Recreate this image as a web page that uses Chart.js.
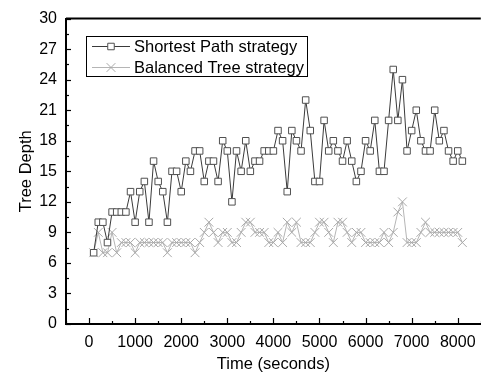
<!DOCTYPE html>
<html>
<head>
<meta charset="utf-8">
<script src="https://cdn.jsdelivr.net/npm/chart.js@4.4.0/dist/chart.umd.min.js"></script>
<style>
  html, body { margin: 0; padding: 0; background: #fff; overflow: hidden; }
  #wrap { width: 481px; height: 374px; overflow: hidden; }
</style>
</head>
<body>
<div id="wrap"><canvas id="chart" width="488" height="374"></canvas></div>
<script>
const times = [100, 200, 300, 400, 500, 600, 700, 800, 900, 1000,
    1100, 1200, 1300, 1400, 1500, 1600, 1700, 1800, 1900, 2000,
    2100, 2200, 2300, 2400, 2500, 2600, 2700, 2800, 2900, 3000,
    3100, 3200, 3300, 3400, 3500, 3600, 3700, 3800, 3900, 4000,
    4100, 4200, 4300, 4400, 4500, 4600, 4700, 4800, 4900, 5000,
    5100, 5200, 5300, 5400, 5500, 5600, 5700, 5800, 5900, 6000,
    6100, 6200, 6300, 6400, 6500, 6600, 6700, 6800, 6900, 7000,
    7100, 7200, 7300, 7400, 7500, 7600, 7700, 7800, 7900, 8000, 8100];

const shortestPath = [7, 10, 10, 8, 11, 11, 11, 11, 13, 10,
    13, 14, 10, 16, 14, 13, 10, 15, 15, 13,
    16, 15, 17, 17, 14, 16, 16, 14, 18, 17,
    12, 17, 15, 18, 15, 16, 16, 17, 17, 17,
    19, 18, 13, 19, 18, 17, 22, 19, 14, 14,
    20, 17, 18, 17, 16, 18, 16, 14, 15, 18,
    17, 20, 15, 15, 20, 25, 20, 24, 17, 19,
    21, 18, 17, 17, 21, 18, 19, 17, 16, 17, 16];

const balancedTree = [7, 9, 7, 7, 9, 7, 8, 8, 8, 7,
    8, 8, 8, 8, 8, 8, 7, 8, 8, 8,
    8, 8, 7, 8, 9, 10, 9, 8, 9, 9,
    8, 8, 9, 10, 10, 9, 9, 9, 8, 8,
    9, 8, 10, 9, 10, 8, 8, 8, 9, 10,
    10, 9, 8, 10, 10, 9, 8, 9, 9, 8,
    8, 8, 8, 9, 8, 9, 11, 12, 8, 8,
    8, 9, 10, 9, 9, 9, 9, 9, 9, 9, 8];

const seriesNames = ["Shortest Path strategy", "Balanced Tree strategy"];
const yTicks = [0, 3, 6, 9, 12, 15, 18, 21, 24, 27, 30];
const xTicks = [0, 1000, 2000, 3000, 4000, 5000, 6000, 7000, 8000];

const font = "'Liberation Sans', Arial, sans-serif";

function toPoints(ys) {
    return times.map((t, i) => ({ x: t, y: ys[i] }));
}

// inward tick marks + top frame line
const frame = {
    id: "frame",
    afterDraw(chart) {
        const ctx = chart.ctx;
        const area = chart.chartArea;
        const xs = chart.scales.x;
        const ys = chart.scales.y;
        ctx.save();
        ctx.strokeStyle = "#000";
        ctx.lineWidth = 1.2;
        ys.ticks.forEach(t => {
            const y = Math.round(ys.getPixelForValue(t.value)) + 0.5;
            const len = yTicks.includes(t.value) ? 5 : 3;
            ctx.beginPath();
            ctx.moveTo(area.left, y);
            ctx.lineTo(area.left + len, y);
            ctx.stroke();
        });
        xs.ticks.forEach(t => {
            const x = Math.round(xs.getPixelForValue(t.value)) + 0.5;
            const len = xTicks.includes(t.value) ? 6 : 3;
            ctx.beginPath();
            ctx.moveTo(x, area.bottom);
            ctx.lineTo(x, area.bottom - len);
            ctx.stroke();
        });
        ctx.lineWidth = 2;
        ctx.beginPath();
        ctx.moveTo(area.left, area.top);
        ctx.lineTo(area.right, area.top);
        ctx.stroke();
        ctx.restore();
    }
};

// boxed legend inside the plot
const boxLegend = {
    id: "boxLegend",
    afterDraw(chart) {
        const ctx = chart.ctx;
        ctx.save();
        ctx.strokeStyle = "#000";
        ctx.lineWidth = 1;
        ctx.strokeRect(86.5, 36.5, 221, 40);
        const rows = [46, 67];
        chart.data.datasets.forEach((ds, i) => {
            const y = rows[i] + 0.5;
            ctx.strokeStyle = ds.borderColor;
            ctx.lineWidth = 1;
            ctx.beginPath();
            ctx.moveTo(92, y);
            ctx.lineTo(130, y);
            ctx.stroke();
            ctx.strokeStyle = ds.pointBorderColor;
            ctx.fillStyle = ds.pointBackgroundColor;
            Chart.helpers.drawPoint(ctx, { pointStyle: ds.pointStyle, radius: ds.pointRadius, borderWidth: 1 }, 111, y);
            ctx.fillStyle = "#000";
            ctx.font = "16.5px " + font;
            ctx.textBaseline = "middle";
            ctx.fillText(seriesNames[i], 134, y + 0.5);
        });
        ctx.restore();
    }
};

new Chart(document.getElementById("chart").getContext("2d"), {
    type: "line",
    data: {
        datasets: [
            {
                label: seriesNames[0],
                data: toPoints(shortestPath),
                borderColor: "#3a3a3a",
                borderWidth: 1,
                pointStyle: "rect",
                pointRadius: 4.6,
                pointBorderColor: "#505050",
                pointBackgroundColor: "#fff",
                pointBorderWidth: 1,
                tension: 0
            },
            {
                label: seriesNames[1],
                data: toPoints(balancedTree),
                borderColor: "#b5b5b5",
                borderWidth: 1,
                pointStyle: "crossRot",
                pointRadius: 6.2,
                pointBorderColor: "#a8a8a8",
                pointBackgroundColor: "#a8a8a8",
                pointBorderWidth: 1,
                tension: 0
            }
        ]
    },
    options: {
        responsive: false,
        animation: false,
        events: [],
        layout: { padding: { top: 18.5, right: 2, left: 0, bottom: 0 } },
        plugins: {
            legend: { display: false },
            tooltip: { enabled: false }
        },
        scales: {
            x: {
                type: "linear",
                min: -500,
                max: 8500,
                afterFit(scale) {
                    scale.height = 50;
                    scale.paddingLeft = 0;
                    scale.paddingRight = 0;
                },
                afterBuildTicks(scale) {
                    const t = [];
                    for (let v = -500; v <= 8500; v += 500) t.push({ value: v });
                    scale.ticks = t;
                },
                grid: { display: false, drawTicks: false },
                border: { display: true, color: "#000", width: 2 },
                ticks: {
                    autoSkip: false,
                    maxRotation: 0,
                    padding: 9,
                    color: "#000",
                    font: { family: font, size: 16 },
                    callback: v => xTicks.includes(v) ? String(v) : ""
                },
                title: {
                    display: true,
                    text: "Time (seconds)",
                    color: "#000",
                    font: { family: font, size: 16.5 },
                    padding: { top: 0, bottom: 0 }
                }
            },
            y: {
                min: 0,
                max: 30,
                afterFit(scale) { scale.width = 66; },
                afterBuildTicks(scale) {
                    const t = [];
                    for (let v = 0; v <= 30; v += 1.5) t.push({ value: v });
                    scale.ticks = t;
                },
                grid: { display: false, drawTicks: false },
                border: { display: true, color: "#000", width: 2 },
                ticks: {
                    autoSkip: false,
                    padding: 9,
                    color: "#000",
                    font: { family: font, size: 16 },
                    callback: v => yTicks.includes(v) ? String(v) : ""
                },
                title: {
                    display: true,
                    text: "Tree Depth",
                    color: "#000",
                    font: { family: font, size: 16.5 },
                    padding: { top: 17, bottom: 0 }
                }
            }
        }
    },
    plugins: [frame, boxLegend]
});
</script>
</body>
</html>
